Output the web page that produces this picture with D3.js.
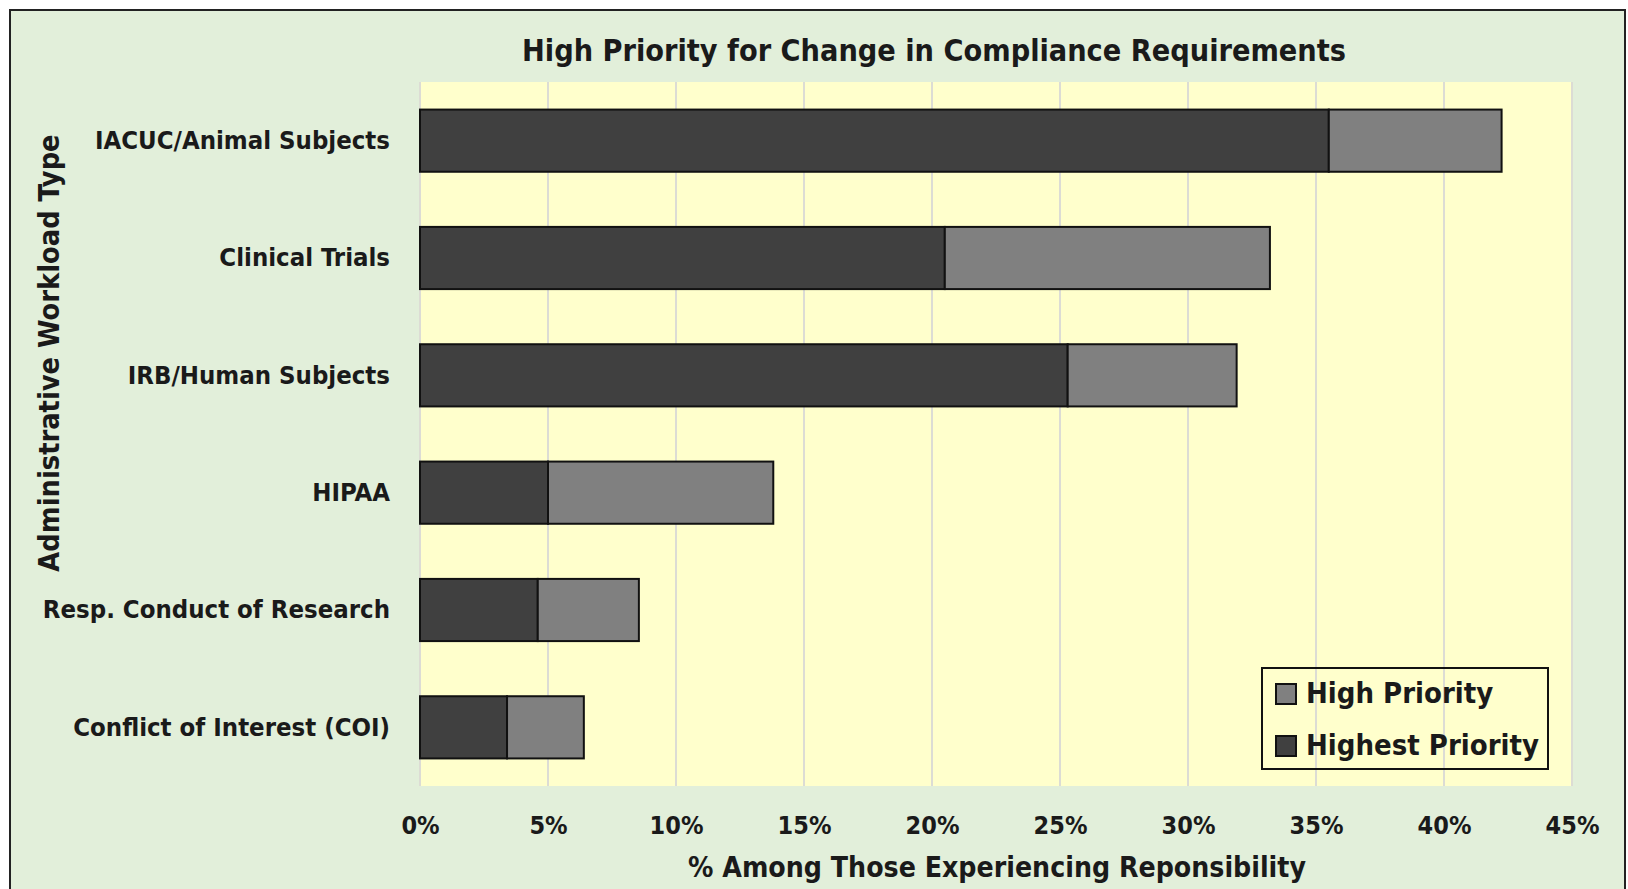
<!DOCTYPE html>
<html>
<head>
<meta charset="utf-8">
<script src="https://cdn.jsdelivr.net/npm/d3@7"></script>
<style>
  html, body { margin: 0; padding: 0; background: #ffffff; }
  svg text { font-family: "Liberation Sans Narrow", "DejaVu Sans Condensed", sans-serif; font-weight: bold; fill: #1a1a1a; }
</style>
</head>
<body>
<div id="chart"></div>
<script>
// categories top to bottom
const categories = [
  'IACUC/Animal Subjects',
  'Clinical Trials',
  'IRB/Human Subjects',
  'HIPAA',
  'Resp. Conduct of Research',
  'Conflict of Interest (COI)'
];
// share rating it "Highest Priority"
const highestPriority = [0.355, 0.205, 0.253, 0.050, 0.046, 0.034];
// extra share rating it "High Priority" (stacked on top)
const highPriority = [0.0675, 0.127, 0.066, 0.088, 0.0395, 0.030];
const xTicks = [0, 0.05, 0.10, 0.15, 0.20, 0.25, 0.30, 0.35, 0.40, 0.45];
const seriesNames = ['Highest Priority', 'High Priority'];

const width = 1628, height = 889;
const plot = { left: 420, right: 1572, top: 82, bottom: 786 };
const colors = { 'Highest Priority': '#404040', 'High Priority': '#808080' };

const svg = d3.select('#chart')
  .append('svg')
  .attr('width', width)
  .attr('height', height);

// chart area background + frame
svg.append('rect')
  .attr('x', 10).attr('y', 10)
  .attr('width', 1615).attr('height', 900)
  .attr('fill', '#e2efda')
  .attr('stroke', '#222')
  .attr('stroke-width', 2);

svg.append('rect')
  .attr('x', plot.left).attr('y', plot.top)
  .attr('width', plot.right - plot.left)
  .attr('height', plot.bottom - plot.top)
  .attr('fill', '#ffffcc');

const x = d3.scaleLinear()
  .domain([0, 0.45])
  .range([plot.left, plot.right]);

const y = d3.scaleBand()
  .domain(categories)
  .range([plot.top, plot.bottom])
  .paddingInner(0.47)
  .paddingOuter(0.235);

// gridlines
svg.append('g')
  .selectAll('line')
  .data(xTicks)
  .join('line')
  .attr('x1', d => x(d)).attr('x2', d => x(d))
  .attr('y1', plot.top).attr('y2', plot.bottom)
  .attr('stroke', '#dcdcd4')
  .attr('stroke-width', 2);

// stacked bars
const rows = categories.map((c, i) => ({
  category: c,
  'Highest Priority': highestPriority[i],
  'High Priority': highPriority[i]
}));
const stacked = d3.stack().keys(seriesNames)(rows);

svg.append('g')
  .selectAll('g')
  .data(stacked)
  .join('g')
  .attr('fill', d => colors[d.key])
  .selectAll('rect')
  .data(d => d)
  .join('rect')
  .attr('x', d => x(d[0]))
  .attr('y', d => y(d.data.category))
  .attr('width', d => x(d[1]) - x(d[0]))
  .attr('height', y.bandwidth())
  .attr('stroke', '#111')
  .attr('stroke-width', 2);

// x axis tick labels
const xAxis = d3.axisBottom(x)
  .tickValues(xTicks)
  .tickFormat(d3.format('.0%'))
  .tickSize(0)
  .tickPadding(0);
const gx = svg.append('g')
  .attr('transform', `translate(0, ${plot.bottom + 30})`)
  .call(xAxis);
gx.select('.domain').remove();
gx.selectAll('text')
  .attr('font-size', 25)
  .attr('fill', '#1a1a1a');

// y axis category labels
const yAxis = d3.axisLeft(y).tickSize(0).tickPadding(30);
const gy = svg.append('g')
  .attr('transform', `translate(${plot.left}, 0)`)
  .call(yAxis);
gy.select('.domain').remove();
gy.selectAll('text')
  .attr('font-size', 25.5)
  .attr('fill', '#1a1a1a');
svg.selectAll('.tick text').attr('font-family', null);

// titles
svg.append('text')
  .attr('x', 934).attr('y', 61)
  .attr('text-anchor', 'middle')
  .attr('font-size', 30.3)
  .text('High Priority for Change in Compliance Requirements');

svg.append('text')
  .attr('x', 997).attr('y', 877)
  .attr('text-anchor', 'middle')
  .attr('font-size', 28.2)
  .text('% Among Those Experiencing Reponsibility');

svg.append('text')
  .attr('transform', 'translate(59, 353) rotate(-90)')
  .attr('text-anchor', 'middle')
  .attr('font-size', 28.7)
  .text('Administrative Workload Type');

// legend
const legend = svg.append('g');
legend.append('rect')
  .attr('x', 1262).attr('y', 668)
  .attr('width', 286).attr('height', 101)
  .attr('fill', 'none')
  .attr('stroke', '#111')
  .attr('stroke-width', 2);

const legendItems = ['High Priority', 'Highest Priority'];
const li = legend.selectAll('g.item')
  .data(legendItems)
  .join('g')
  .attr('class', 'item')
  .attr('transform', (d, i) => `translate(1276, ${684 + i * 52})`);
li.append('rect')
  .attr('width', 20).attr('height', 20)
  .attr('fill', d => colors[d])
  .attr('stroke', '#111')
  .attr('stroke-width', 2);
li.append('text')
  .attr('x', 30).attr('y', 19)
  .attr('font-size', 29)
  .text(d => d);
</script>
</body>
</html>
